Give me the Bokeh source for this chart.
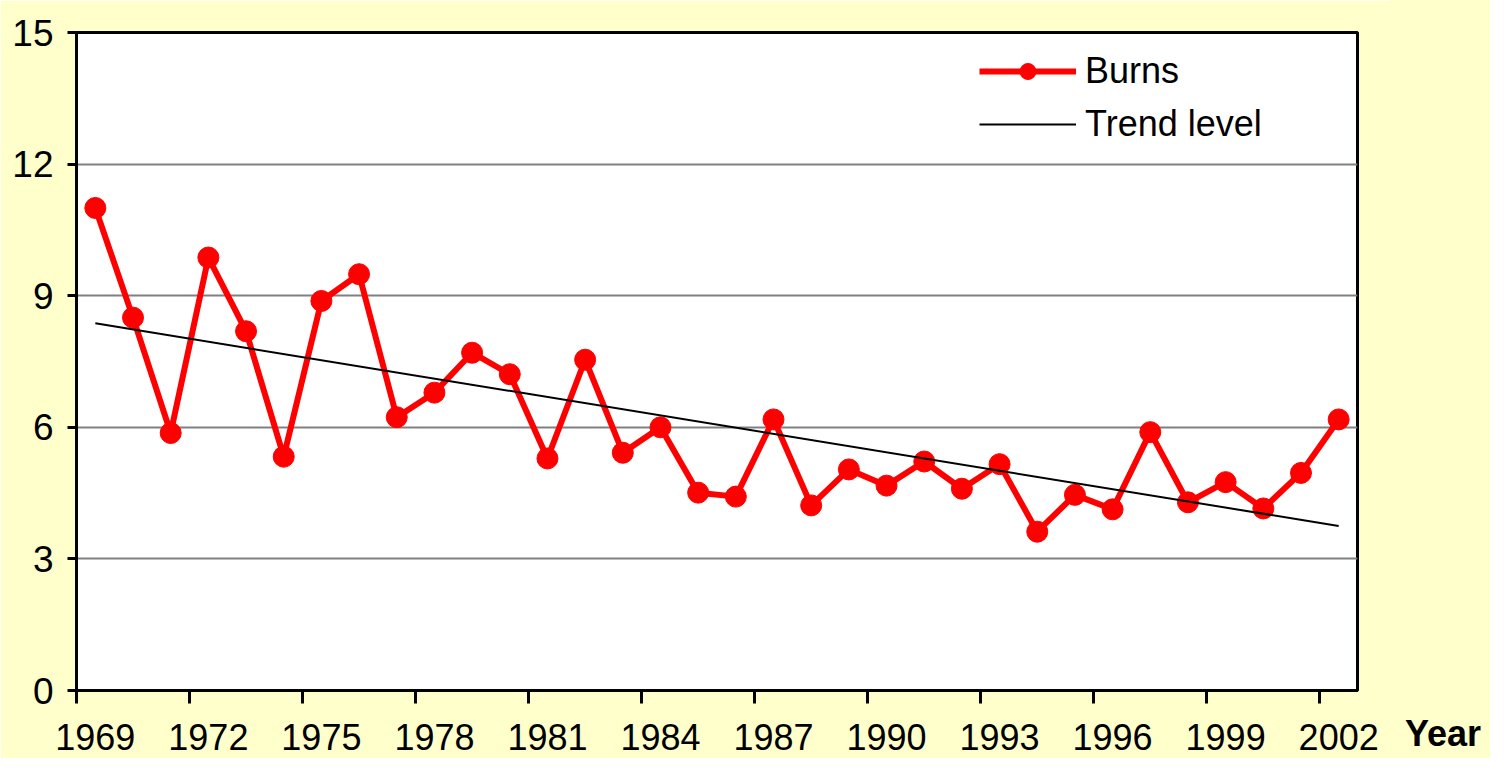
from bokeh.plotting import figure
from bokeh.layouts import row
from bokeh.models import FixedTicker, Range1d, Legend, LegendItem, Div
from bokeh.embed import file_html
from bokeh.resources import INLINE

years = list(range(1969, 2003))
burns = [11.0, 8.5, 5.87, 9.87, 8.19, 5.33, 8.88, 9.49, 6.23, 6.79,
         7.70, 7.21, 5.29, 7.54, 5.42, 6.00, 4.51, 4.42, 6.18, 4.22,
         5.04, 4.67, 5.22, 4.60, 5.16, 3.62, 4.46, 4.13, 5.89, 4.29,
         4.75, 4.15, 4.96, 6.18]
trend_years = [1969, 2002]
trend_values = [8.37, 3.75]
label_years = [1969, 1972, 1975, 1978, 1981, 1984, 1987, 1990, 1993, 1996, 1999, 2002]
y_ticks = [0, 3, 6, 9, 12, 15]

BG = "#FFFFCC"
FONT = "Liberation Sans"

p = figure(width=1390, height=758, output_backend="svg", toolbar_location=None,
           x_range=Range1d(1968.5, 2002.5), y_range=Range1d(0, 15),
           min_border_left=76, min_border_top=32, min_border_right=33, min_border_bottom=68)
p.border_fill_color = BG
p.background_fill_color = "white"
p.outline_line_color = "black"
p.outline_line_width = 3

p.xgrid.visible = False
p.ygrid.grid_line_color = "#808080"
p.ygrid.grid_line_width = 2

xa = p.xaxis[0]
xa.ticker = FixedTicker(ticks=label_years, minor_ticks=[y - 0.5 for y in label_years])
xa.major_tick_line_color = None
xa.minor_tick_in = 0
xa.minor_tick_out = 13
xa.minor_tick_line_color = "black"
xa.minor_tick_line_width = 3
xa.axis_line_color = "black"
xa.axis_line_width = 3
xa.major_label_text_font = FONT
xa.major_label_text_font_size = "36px"
xa.major_label_text_color = "black"
xa.major_label_standoff = 20

ya = p.yaxis[0]
ya.ticker = FixedTicker(ticks=y_ticks)
ya.minor_tick_line_color = None
ya.major_tick_in = 0
ya.major_tick_out = 9
ya.major_tick_line_color = "black"
ya.major_tick_line_width = 3
ya.axis_line_color = "black"
ya.axis_line_width = 3
ya.major_label_text_font = FONT
ya.major_label_text_font_size = "37px"
ya.major_label_text_color = "black"
ya.major_label_standoff = 14

r_line = p.line(years, burns, line_color="red", line_width=6)
r_pts = p.scatter(years, burns, size=21, fill_color="red", line_color="red")
r_trend = p.line(trend_years, trend_values, line_color="black", line_width=2)

legend = Legend(items=[LegendItem(label="Burns", renderers=[r_line, r_pts]),
                       LegendItem(label="Trend level", renderers=[r_trend])],
                location=(903, 545))
legend.border_line_color = None
legend.background_fill_alpha = 0
legend.padding = 0
legend.margin = 0
legend.spacing = 11
legend.glyph_width = 97
legend.glyph_height = 40
legend.label_height = 40
legend.label_standoff = 9
legend.label_text_font = FONT
legend.label_text_font_size = "36px"
legend.label_text_color = "black"
p.add_layout(legend, "center")

# narrow side panel carrying the "Year" axis title
year_title = Div(text="Year", width=100, height=758, margin=(0, 0, 0, 0),
                 styles={"background-color": BG, "font-family": FONT,
                         "font-size": "36px", "font-weight": "bold",
                         "color": "black", "line-height": "41px",
                         "padding-top": "713px", "padding-left": "15px",
                         "box-sizing": "border-box"})

layout = row(p, year_title, spacing=0)
html = file_html(layout, INLINE)
html = html.replace("<body>", '<body style="background:%s">' % BG, 1)
open("out.html", "w").write(html)
